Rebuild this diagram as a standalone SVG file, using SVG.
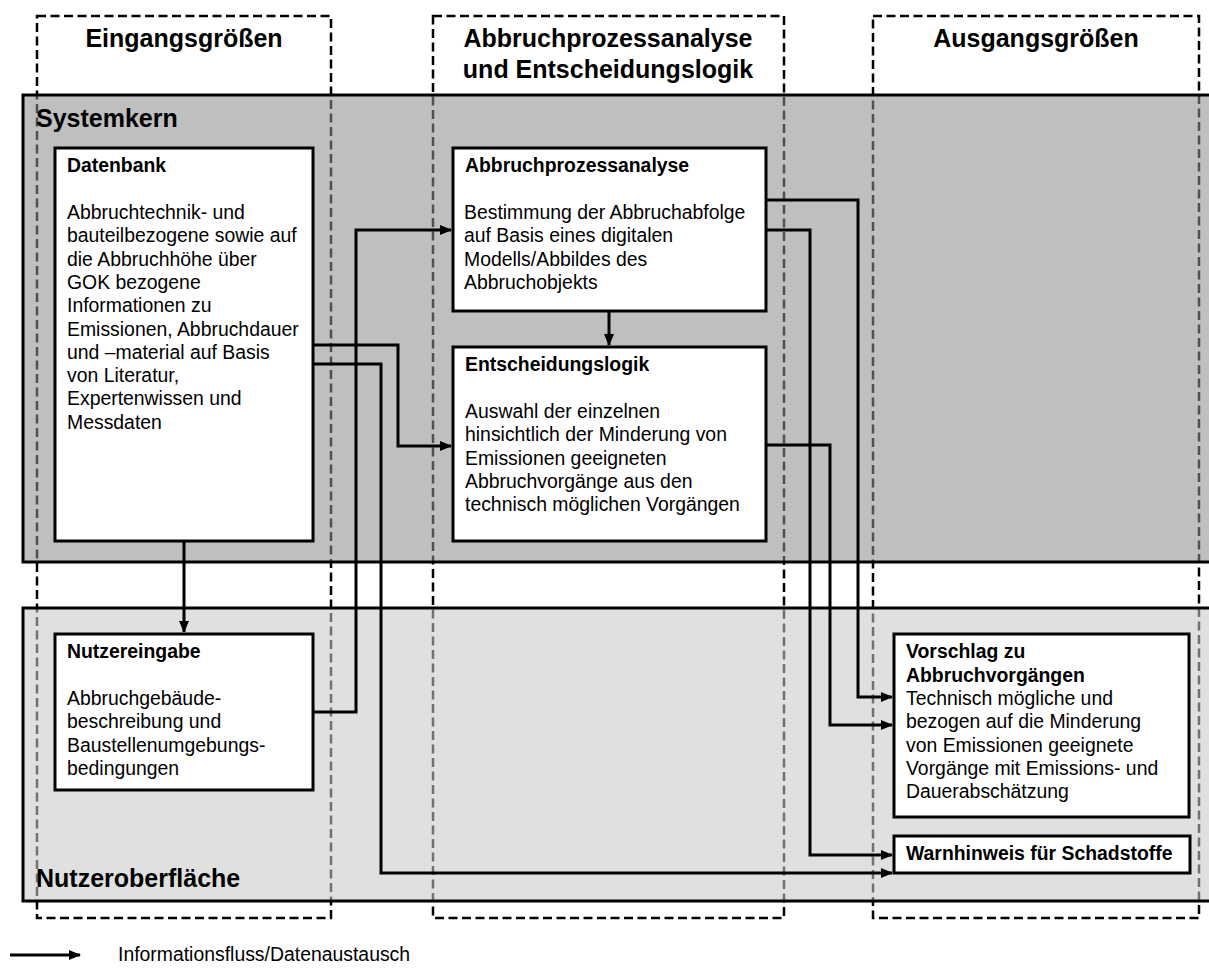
<svg xmlns="http://www.w3.org/2000/svg" width="1209" height="972" viewBox="0 0 1209 972">
<style>
.col{fill:none;stroke:#000;stroke-width:2.5;stroke-dasharray:9 4.5}
.band{stroke:#000;stroke-width:3}
.box{fill:#fff;stroke:#000;stroke-width:3}
.big{font-family:"Liberation Sans",Arial,sans-serif;font-weight:bold;font-size:25px;fill:#000}
.t{font-family:"Liberation Sans",Arial,sans-serif;font-weight:bold;font-size:19.4px;fill:#000}
.b{font-family:"Liberation Sans",Arial,sans-serif;font-size:19.4px;fill:#000}
.con{fill:none;stroke:#000;stroke-width:3;marker-end:url(#ah)}
</style>
<defs>
<marker id="ah" markerUnits="userSpaceOnUse" markerWidth="12" markerHeight="10" refX="11" refY="5" orient="auto">
<path d="M0,0 L12,5 L0,10 z" fill="#000"/>
</marker>
</defs>
<rect width="1209" height="972" fill="#fff"/>
<g id="columns">
<rect class="col" x="37" y="16" width="294" height="902"/>
<rect class="col" x="433" y="16" width="351" height="902"/>
<rect class="col" x="873" y="16" width="326" height="902"/>
</g>
<g id="band-systemkern">
<rect class="band" x="23" y="95" width="1200" height="467" fill="rgb(142,142,142)" fill-opacity="0.565"/>
<text class="big" x="36" y="127">Systemkern</text>
</g>
<g id="band-nutzeroberflaeche">
<rect class="band" x="23" y="608" width="1200" height="293" fill="rgb(200,200,200)" fill-opacity="0.565"/>
<text class="big" x="36" y="887">Nutzeroberfläche</text>
</g>
<g id="column-titles">
<text class="big" x="184" y="47" text-anchor="middle">Eingangsgrößen</text>
<text class="big" x="608" y="47" text-anchor="middle">Abbruchprozessanalyse</text>
<text class="big" x="608" y="78" text-anchor="middle">und Entscheidungslogik</text>
<text class="big" x="1036" y="47" text-anchor="middle">Ausgangsgrößen</text>
</g>
<g id="connectors">
<path class="con" d="M184,541 V632"/>
<path class="con" d="M313,712 H356 V230 H451"/>
<path class="con" d="M313,345 H398 V446 H451"/>
<path class="con" d="M313,364 H381 V873 H892"/>
<path class="con" d="M766,200 H858 V697 H892"/>
<path class="con" d="M766,230 H810 V855 H892"/>
<path class="con" d="M766,445 H830 V725 H892"/>
<path class="con" d="M609,311 V345"/>
</g>
<g id="datenbank">
<rect class="box" x="55" y="148" width="258" height="393"/>
<text class="t" x="67" y="172">Datenbank</text>
<text class="b">
<tspan x="67" y="219">Abbruchtechnik- und</tspan>
<tspan x="67" y="242.3">bauteilbezogene sowie auf</tspan>
<tspan x="67" y="265.6">die Abbruchhöhe über</tspan>
<tspan x="67" y="288.9">GOK bezogene</tspan>
<tspan x="67" y="312.2">Informationen zu</tspan>
<tspan x="67" y="335.5">Emissionen, Abbruchdauer</tspan>
<tspan x="67" y="358.8">und –material auf Basis</tspan>
<tspan x="67" y="382.1">von Literatur,</tspan>
<tspan x="67" y="405.4">Expertenwissen und</tspan>
<tspan x="67" y="428.7">Messdaten</tspan>
</text>
</g>
<g id="abbruchprozessanalyse">
<rect class="box" x="453" y="148" width="313" height="163"/>
<text class="t" x="465" y="172">Abbruchprozessanalyse</text>
<text class="b">
<tspan x="464" y="219">Bestimmung der Abbruchabfolge</tspan>
<tspan x="464" y="242.3">auf Basis eines digitalen</tspan>
<tspan x="464" y="265.6">Modells/Abbildes des</tspan>
<tspan x="464" y="288.9">Abbruchobjekts</tspan>
</text>
</g>
<g id="entscheidungslogik">
<rect class="box" x="453" y="347" width="313" height="194"/>
<text class="t" x="465" y="371">Entscheidungslogik</text>
<text class="b">
<tspan x="465" y="418">Auswahl der einzelnen</tspan>
<tspan x="465" y="441.3">hinsichtlich der Minderung von</tspan>
<tspan x="465" y="464.6">Emissionen geeigneten</tspan>
<tspan x="465" y="487.9">Abbruchvorgänge aus den</tspan>
<tspan x="465" y="511.2">technisch möglichen Vorgängen</tspan>
</text>
</g>
<g id="nutzereingabe">
<rect class="box" x="55" y="634" width="258" height="156"/>
<text class="t" x="67" y="658">Nutzereingabe</text>
<text class="b">
<tspan x="67" y="705">Abbruchgebäude-</tspan>
<tspan x="67" y="728.3">beschreibung und</tspan>
<tspan x="67" y="751.6">Baustellenumgebungs-</tspan>
<tspan x="67" y="774.9">bedingungen</tspan>
</text>
</g>
<g id="vorschlag">
<rect class="box" x="894" y="634" width="295" height="183"/>
<text class="t">
<tspan x="906" y="658">Vorschlag zu</tspan>
<tspan x="906" y="681.5">Abbruchvorgängen</tspan>
</text>
<text class="b">
<tspan x="906" y="705">Technisch mögliche und</tspan>
<tspan x="906" y="728.3">bezogen auf die Minderung</tspan>
<tspan x="906" y="751.6">von Emissionen geeignete</tspan>
<tspan x="906" y="774.9">Vorgänge mit Emissions- und</tspan>
<tspan x="906" y="798.2">Dauerabschätzung</tspan>
</text>
</g>
<g id="warnhinweis">
<rect class="box" x="894" y="836" width="296" height="37"/>
<text class="t" x="906" y="860">Warnhinweis für Schadstoffe</text>
</g>
<g id="legend">
<path class="con" d="M10,955 H80"/>
<text class="b" x="118" y="961">Informationsfluss/Datenaustausch</text>
</g>
</svg>
